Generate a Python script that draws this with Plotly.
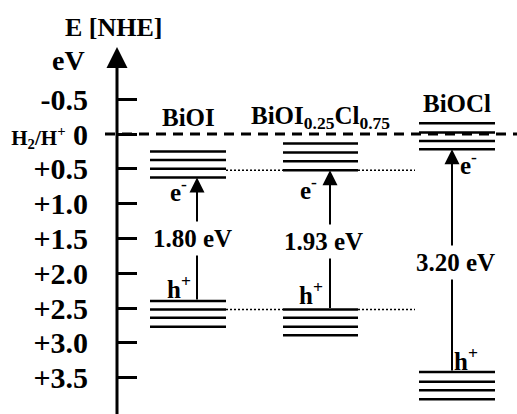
import plotly.graph_objects as go

# ---- data ----
materials = ["BiOI", "BiOI<sub>0.25</sub>Cl<sub>0.75</sub>", "BiOCl"]
cb_levels = [[0.25, 0.375, 0.50, 0.625],
             [0.135, 0.265, 0.39, 0.52],
             [-0.155, -0.02, 0.10, 0.22]]
vb_levels = [[2.40, 2.52, 2.64, 2.77],
             [2.52, 2.64, 2.77, 2.89],
             [3.42, 3.56, 3.68, 3.81]]
gap_labels = ["1.80 eV", "1.93 eV", "3.20 eV"]
tick_vals = [-0.5, 0, 0.5, 1.0, 1.5, 2.0, 2.5, 3.0, 3.5]
tick_text = ["-0.5",
             "<span style='font-size:21px'>H<sub>2</sub>/H<sup>+</sup></span> 0",
             "+0.5", "+1.0", "+1.5", "+2.0", "+2.5", "+3.0", "+3.5"]

# ---- layout geometry (horizontal placement) ----
W, H = 517, 414
x_left = [150, 283, 419]
x_right = [226, 358, 495]
x_arrow = [197, 330, 452]
x_label = [188, 320, 457]
label_y = [-0.23, -0.23, -0.445]
axis_x = 117
px_per_ev = 69.6
y0_px = 134
y_top = -y0_px / px_per_ev
y_bot = (H - y0_px) / px_per_ev

FONT = "Times New Roman, Liberation Serif, serif"
BLACK = "black"
fig = go.Figure()
fig.add_trace(go.Scatter(x=[0], y=[0], mode="markers", marker=dict(opacity=0), showlegend=False, hoverinfo="skip"))

shapes = []
annotations = []

# axis line
shapes.append(dict(type="line", x0=axis_x, x1=axis_x, y0=y_bot + 0.1, y1=-1.1,
                   line=dict(color=BLACK, width=3)))
annotations.append(dict(x=axis_x, y=-1.25, ax=axis_x, ay=-1.0, xref="x", yref="y",
                        axref="x", ayref="y", text="", showarrow=True, arrowhead=2,
                        arrowsize=1.4, arrowwidth=3, arrowcolor=BLACK, standoff=0))

# H2/H+ dashed line
shapes.append(dict(type="line", x0=105, x1=W, y0=0, y1=0,
                   line=dict(color=BLACK, width=3, dash="10px,7px")))

for i in range(3):
    for lv in cb_levels[i] + vb_levels[i]:
        shapes.append(dict(type="line", x0=x_left[i], x1=x_right[i], y0=lv, y1=lv,
                           line=dict(color=BLACK, width=2.5)))
    # band gap arrow
    annotations.append(dict(x=x_arrow[i], y=cb_levels[i][-1], ax=x_arrow[i], ay=vb_levels[i][0],
                            xref="x", yref="y", axref="x", ayref="y", text="", showarrow=True,
                            arrowhead=2, arrowsize=1.5, arrowwidth=2, arrowcolor=BLACK, standoff=0))
    # material label
    annotations.append(dict(x=x_label[i], y=label_y[i], xref="x", yref="y", text=materials[i],
                            showarrow=False, yanchor="middle",
                            font=dict(family=FONT, size=25, color=BLACK, weight="bold")))

# dotted connectors
for lvl in (cb_levels[1][-1], vb_levels[1][0]):
    shapes.append(dict(type="line", x0=x_right[0], x1=x_left[1], y0=lvl, y1=lvl,
                       line=dict(color=BLACK, width=1.5, dash="2px,2px")))
    shapes.append(dict(type="line", x0=x_right[1], x1=415, y0=lvl, y1=lvl,
                       line=dict(color=BLACK, width=1.5, dash="2px,2px")))

# gap labels
gap_pos = [(192, 1.50), (323, 1.55), (455, 1.85)]
for (gx, gy), t in zip(gap_pos, gap_labels):
    annotations.append(dict(x=gx, y=gy, xref="x", yref="y", text=t, showarrow=False,
                            bgcolor="white", borderpad=3,
                            font=dict(family=FONT, size=25, color=BLACK, weight="bold")))

# e- and h+ labels
e_pos = [(178, 0.80), (308, 0.77), (468, 0.42)]
h_pos = [(179, 2.20), (311, 2.28), (466, 3.23)]
for (ex, ey) in e_pos:
    annotations.append(dict(x=ex, y=ey, xref="x", yref="y", text="e<sup>-</sup>", showarrow=False,
                            font=dict(family=FONT, size=25, color=BLACK, weight="bold")))
for (hx, hy) in h_pos:
    annotations.append(dict(x=hx, y=hy, xref="x", yref="y", text="h<sup>+</sup>", showarrow=False,
                            font=dict(family=FONT, size=25, color=BLACK, weight="bold")))

# axis title
annotations.append(dict(x=114, y=(27 - y0_px) / px_per_ev, xref="x", yref="y", text="E [NHE]",
                        showarrow=False, font=dict(family=FONT, size=26, color=BLACK, weight="bold")))
annotations.append(dict(x=68, y=(60 - y0_px) / px_per_ev, xref="x", yref="y", text="eV",
                        showarrow=False, font=dict(family=FONT, size=28, color=BLACK, weight="bold")))

fig.update_layout(
    width=W, height=H, margin=dict(l=0, r=0, t=0, b=0),
    paper_bgcolor="white", plot_bgcolor="white",
    shapes=shapes, annotations=annotations, showlegend=False,
    xaxis=dict(range=[0, W], visible=False, domain=[0, 1]),
    yaxis=dict(range=[y_bot, y_top], anchor="free", position=axis_x / W, side="left",
               tickvals=tick_vals, ticktext=tick_text, ticks="inside", ticklen=19, tickwidth=3,
               tickcolor=BLACK, showline=False, showgrid=False, zeroline=False,
               ticklabelstandoff=29,
               tickfont=dict(family=FONT, size=30, color=BLACK, weight="bold")),
)
fig.write_html("out.html")
